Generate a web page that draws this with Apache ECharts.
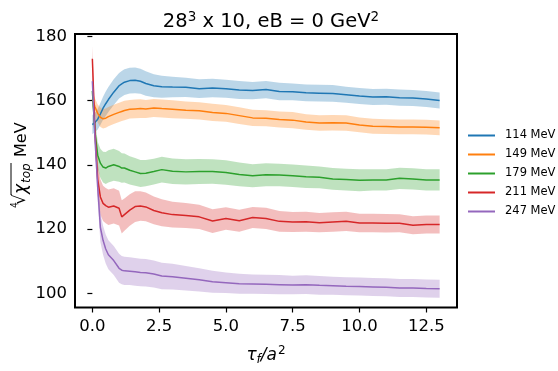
<!DOCTYPE html>
<html>
<head>
<meta charset="utf-8">
<script src="https://cdn.jsdelivr.net/npm/echarts@6/dist/echarts.min.js"></script>
<style>
  body { margin: 0; padding: 0; background: #fff; }
  #chart { width: 558px; height: 371px; }
</style>
</head>
<body>
<div id="chart"></div>
<script>
  // flow time tau_f / a^2
  const tau = [0, 0.1, 0.2, 0.3, 0.4, 0.5, 0.6, 0.8, 1.0, 1.1, 1.2, 1.4, 1.6, 1.8, 2.0, 2.3, 2.6, 3.0, 3.5, 4.0,
               4.5, 5.0, 5.5, 6.0, 6.5, 7.0, 7.5, 8.0, 8.5, 9.0, 9.5, 10.0, 10.5, 11.0, 11.5, 12.0, 12.5, 13.0];

  const labels = ['114 MeV', '149 MeV', '179 MeV', '211 MeV', '247 MeV'];
  const colorsList = ['#1f77b4', '#ff7f0e', '#2ca02c', '#d62728', '#9467bd'];

  const mean114 = [152.5, 153.2, 154.2, 155.8, 157.6, 159.0, 160.3, 162.6, 164.6, 165.2, 165.7, 166.2, 166.3, 166.0, 165.3, 164.6, 164.3, 164.2, 164.1, 163.7,
                   163.9, 163.7, 163.3, 163.1, 163.4, 162.8, 162.7, 162.4, 162.3, 162.2, 161.8, 161.4, 161.1, 161.2, 160.9, 160.8, 160.5, 160.0];
  const err114  = [3.0, 3.0, 3.2, 3.4, 3.6, 3.8, 3.9, 4.0, 4.0, 4.0, 4.0, 4.0, 4.0, 3.9, 3.8, 3.6, 3.4, 3.2, 3.0, 2.9,
                   2.9, 2.8, 2.8, 2.7, 2.7, 2.7, 2.6, 2.6, 2.6, 2.6, 2.5, 2.5, 2.5, 2.5, 2.5, 2.5, 2.5, 2.5];

  const mean149 = [160.5, 158.0, 156.0, 154.8, 154.3, 154.5, 155.0, 155.7, 156.3, 156.6, 156.9, 157.3, 157.4, 157.5, 157.4, 157.7, 157.5, 157.3, 157.0, 156.8,
                   156.3, 156.0, 155.3, 154.6, 154.5, 154.1, 153.9, 153.3, 153.0, 153.1, 153.0, 152.4, 152.0, 151.9, 151.8, 151.8, 151.7, 151.5];
  const err149  = [2.5, 2.6, 2.8, 3.0, 3.0, 3.0, 3.0, 3.0, 3.0, 3.0, 3.0, 2.9, 2.9, 2.9, 2.8, 2.8, 2.8, 2.8, 2.7, 2.7,
                   2.7, 2.6, 2.6, 2.5, 2.5, 2.5, 2.5, 2.4, 2.4, 2.4, 2.4, 2.3, 2.3, 2.3, 2.3, 2.3, 2.3, 2.3];

  const mean179 = [163.0, 150.0, 143.0, 140.5, 139.3, 139.0, 139.5, 140.0, 139.5, 139.0, 139.0, 138.3, 137.8, 137.3, 137.4, 137.9, 138.5, 138.0, 137.8, 137.9,
                   137.9, 137.6, 137.0, 136.6, 136.9, 136.8, 136.6, 136.3, 136.1, 135.6, 135.4, 135.2, 135.3, 135.3, 135.8, 135.6, 135.3, 135.3];
  const err179  = [4.0, 4.0, 4.2, 4.5, 4.8, 5.0, 5.0, 5.0, 4.8, 4.6, 4.5, 4.4, 4.3, 4.2, 4.1, 4.0, 4.0, 4.0, 3.9, 3.9,
                   3.8, 3.8, 3.7, 3.6, 3.6, 3.5, 3.5, 3.5, 3.4, 3.4, 3.4, 3.4, 3.3, 3.3, 3.3, 3.3, 3.3, 3.3];

  const mean211 = [173.0, 150.0, 135.5, 130.0, 128.0, 127.3, 126.8, 127.2, 126.5, 123.8, 124.5, 125.9, 127.0, 127.2, 126.9, 125.8, 125.1, 124.5, 124.2, 123.8,
                   122.5, 123.3, 122.6, 123.6, 123.3, 122.4, 122.2, 122.3, 122.0, 122.2, 122.4, 121.9, 121.9, 121.8, 121.8, 121.2, 121.4, 121.4];
  const err211  = [4.0, 4.5, 5.0, 5.5, 5.5, 5.5, 5.5, 5.5, 5.4, 5.2, 5.0, 4.9, 4.8, 4.6, 4.5, 4.3, 4.2, 4.0, 3.9, 3.8,
                   3.7, 3.5, 3.4, 3.3, 3.3, 3.2, 3.1, 3.1, 3.0, 3.0, 3.0, 2.9, 2.9, 2.9, 2.8, 2.8, 2.8, 2.8];

  const mean247 = [166.0, 148.0, 133.0, 120.5, 116.5, 113.8, 112.0, 110.2, 107.8, 107.2, 107.0, 106.9, 106.7, 106.5, 106.4, 106.0, 105.4, 105.2, 104.7, 104.2,
                   103.6, 103.3, 103.0, 102.9, 102.8, 102.7, 102.6, 102.7, 102.5, 102.4, 102.2, 102.1, 102.0, 101.9, 101.7, 101.7, 101.5, 101.4];
  const err247  = [4.0, 4.2, 4.5, 4.5, 4.5, 4.5, 4.5, 4.5, 4.5, 4.4, 4.4, 4.3, 4.3, 4.3, 4.3, 4.2, 4.1, 4.0, 3.8, 3.6,
                   3.4, 3.2, 3.1, 3.0, 3.0, 3.0, 2.9, 2.9, 2.9, 2.8, 2.8, 2.8, 2.8, 2.8, 2.8, 2.8, 2.8, 2.8];

  const xTicks = [0, 2.5, 5, 7.5, 10, 12.5];
  const yTicks = [100, 120, 140, 160, 180];

  const means = [mean114, mean149, mean179, mean211, mean247];
  const errs = [err114, err149, err179, err211, err247];

  const chart = echarts.init(document.getElementById('chart'), null, { renderer: 'canvas' });

  const textFont = '"DejaVu Sans", sans-serif';

  // confidence band: one polygon through all points, placed with the axes' coord()
  function bandSeries(i) {
    const lo = tau.map((t, k) => means[i][k] - errs[i][k]);
    const hi = tau.map((t, k) => means[i][k] + errs[i][k]);
    return {
      type: 'custom',
      name: 'band' + i,
      z: 1,
      silent: true,
      clip: true,
      data: tau.map((t, k) => [t, lo[k], hi[k]]),
      encode: { x: 0, y: [1, 2] },
      renderItem: (params, api) => {
        if (params.dataIndex !== 0) return null;
        const pts = [];
        for (let k = 0; k < tau.length; k++) pts.push(api.coord([tau[k], hi[k]]));
        for (let k = tau.length - 1; k >= 0; k--) pts.push(api.coord([tau[k], lo[k]]));
        return {
          type: 'polygon',
          shape: { points: pts },
          style: { fill: colorsList[i], opacity: 0.3 }
        };
      }
    };
  }

  const series = [];
  for (let i = 0; i < 5; i++) series.push(bandSeries(i));
  for (let i = 0; i < 5; i++) {
    series.push({
      type: 'line',
      name: labels[i],
      z: 3,
      data: tau.map((t, k) => [t, means[i][k]]),
      showSymbol: false,
      symbol: 'none',
      lineStyle: { color: colorsList[i], width: 1.5 },
      itemStyle: { color: colorsList[i] }
    });
  }

  chart.setOption({
    animation: false,
    title: {
      text: '{t|28}{u|3}{t| x 10, eB = 0 GeV}{u|2}',
      left: 266,
      textAlign: 'center',
      top: 5,
      textStyle: {
        fontWeight: 'normal',
        rich: {
          t: { fontFamily: textFont, fontSize: 19.5, fontWeight: 'normal', color: '#000' },
          u: { fontFamily: textFont, fontSize: 13.5, fontWeight: 'normal', color: '#000', padding: [0, 0, 10, 0] }
        }
      }
    },
    grid: {
      left: 75, right: 101, top: 34, bottom: 54,
      show: true, borderColor: '#000', borderWidth: 2, backgroundColor: 'transparent'
    },
    legend: {
      data: labels,
      orient: 'vertical',
      left: 468,
      top: 129,
      padding: 0,
      icon: 'rect',
      itemWidth: 27,
      itemHeight: 2,
      itemGap: 6,
      textStyle: { fontFamily: textFont, fontSize: 11.5, color: '#000', lineHeight: 13, padding: [0, 0, 0, 5] }
    },
    xAxis: {
      type: 'value',
      min: -0.65,
      max: 13.65,
      axisLine: { show: false },
      splitLine: { show: false },
      axisTick: { show: true, customValues: xTicks, length: 5, lineStyle: { color: '#000', width: 1.2 } },
      axisLabel: {
        customValues: xTicks, margin: 11, color: '#000',
        fontFamily: textFont, fontSize: 16.5,
        formatter: v => v.toFixed(1)
      },
      name: '{a|τ}{s|f}{a|/a}{p|2}',
      nameLocation: 'middle',
      nameGap: 37,
      nameTextStyle: {
        rich: {
          a: { fontFamily: textFont, fontStyle: 'italic', fontSize: 17, color: '#000' },
          s: { fontFamily: textFont, fontStyle: 'italic', fontSize: 12, color: '#000', padding: [9, 0, 0, 0] },
          p: { fontFamily: textFont, fontSize: 12, color: '#000', padding: [0, 0, 10, 1] }
        }
      }
    },
    yAxis: {
      type: 'value',
      min: 95.6,
      max: 180.7,
      axisLine: { show: false },
      splitLine: { show: false },
      axisTick: { show: true, customValues: yTicks, length: 5, lineStyle: { color: '#000', width: 1.2 } },
      axisLabel: {
        customValues: yTicks, margin: 8, color: '#000',
        fontFamily: textFont, fontSize: 16.5
      }
    },
    graphic: [{
      type: 'group',
      x: 27,
      y: 208,
      rotation: Math.PI / 2,
      children: [
        { type: 'text', x: 0, y: -8, style: { text: '4', font: '9px ' + textFont, fill: '#000', verticalAlign: 'bottom' } },
        { type: 'text', x: 3, y: 2, style: { text: '√', font: '17px ' + textFont, fill: '#000', verticalAlign: 'bottom' } },
        { type: 'line', shape: { x1: 13, y1: -16, x2: 45, y2: -16 }, style: { stroke: '#000', lineWidth: 1 } },
        { type: 'text', x: 14, y: 3, style: { text: 'χ', font: 'italic 17px ' + textFont, fill: '#000', verticalAlign: 'bottom' } },
        { type: 'text', x: 25, y: 6, style: { text: 'top', font: 'italic 12px ' + textFont, fill: '#000', verticalAlign: 'bottom' } },
        { type: 'text', x: 51, y: 3, style: { text: 'MeV', font: '16px ' + textFont, fill: '#000', verticalAlign: 'bottom' } }
      ]
    }],
    series: series
  });

  window.addEventListener('resize', () => chart.resize());
</script>
</body>
</html>
